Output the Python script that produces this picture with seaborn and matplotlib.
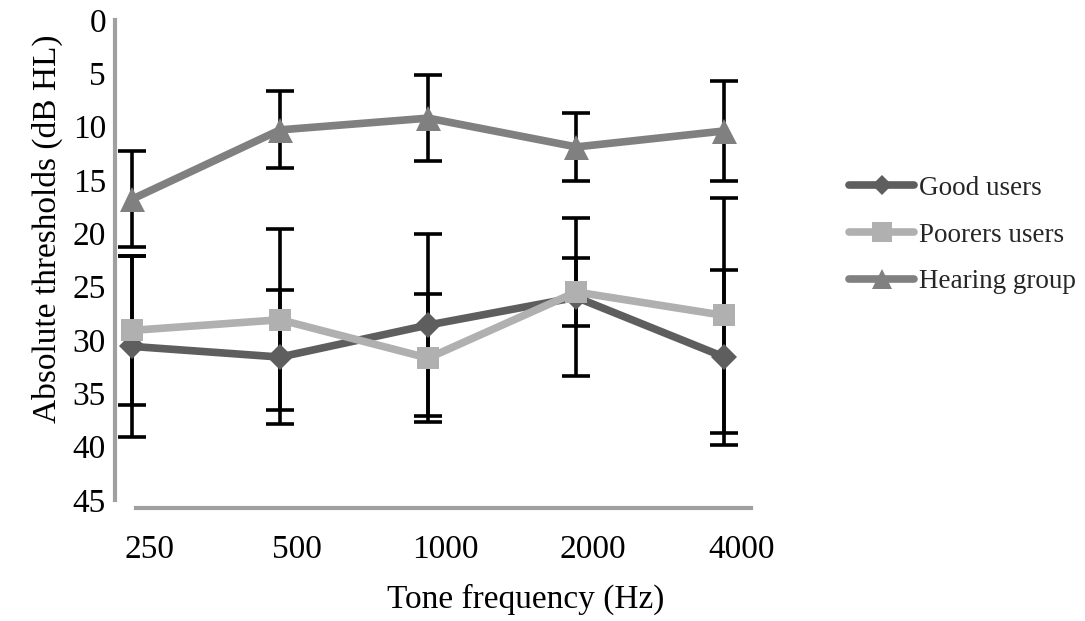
import numpy as np
import pandas as pd
import matplotlib
matplotlib.use("Agg")
import matplotlib.pyplot as plt
import seaborn as sns

# -------------------------------
# DATA
# -------------------------------
freqs = ['250', '500', '1000', '2000', '4000']
groups = ['Good users', 'Poorers users', 'Hearing group']

good_mean = [30.6, 31.6, 28.6, 26.0, 31.6]
good_sd = [8.5, 6.3, 8.5, 7.4, 8.2]
poor_mean = [29.1, 28.1, 31.7, 25.5, 27.7]
poor_sd = [7.0, 8.5, 6.0, 3.2, 11.0]
hear_mean = [16.8, 10.3, 9.2, 11.9, 10.4]
hear_sd = [4.5, 3.6, 4.0, 3.2, 4.7]

y_ticks = [0, 5, 10, 15, 20, 25, 30, 35, 40, 45]

df = pd.DataFrame({
    'freq': np.tile(np.arange(len(freqs)), len(groups)),
    'group': np.repeat(groups, len(freqs)),
    'threshold': good_mean + poor_mean + hear_mean,
    'sd': good_sd + poor_sd + hear_sd,
})

# -------------------------------
# STYLE
# -------------------------------
sns.set_theme(style='white')
plt.rcParams['font.family'] = ['Liberation Serif', 'DejaVu Serif']

colors = {'Good users': '#5e5e5e', 'Poorers users': '#b0b0b0', 'Hearing group': '#808080'}
markers = {'Good users': 'D', 'Poorers users': 's', 'Hearing group': '^'}
msizes = {'Good users': 13.5, 'Poorers users': 15.5, 'Hearing group': 18}

fig = plt.figure(figsize=(10.85, 6.21), dpi=100)
ax = fig.add_axes([115 / 1085, 121 / 621, 636 / 1085, 480 / 621])

# ---- error bars (drawn underneath the lines)
for g in groups:
    sub = df[df['group'] == g]
    ax.errorbar(sub['freq'], sub['threshold'], yerr=sub['sd'], fmt='none',
                ecolor='black', elinewidth=2.6, capsize=10, capthick=2.6, zorder=1)

# ---- lines
for i, g in enumerate(groups):
    sns.lineplot(data=df[df['group'] == g], x='freq', y='threshold',
                 color=colors[g], marker=markers[g], markersize=msizes[g],
                 markeredgewidth=0, linewidth=5.5, label=g, ax=ax,
                 zorder=3 + i, errorbar=None)

# -------------------------------
# AXES
# -------------------------------
ax.set_xlim(-0.115, 4.18)
ax.set_ylim(45, 0)
ax.set_yticks(y_ticks)
ax.set_yticklabels([str(t) for t in y_ticks])
# tick labels sit a little right of the points in the original
ax.set_xticks(np.arange(len(freqs)) + 0.115)
ax.set_xticklabels(freqs)
ax.tick_params(axis='both', length=0, labelsize=24, colors='black')
ax.tick_params(axis='y', pad=6.5)
ax.tick_params(axis='x', pad=19)

for side in ['top', 'right']:
    ax.spines[side].set_visible(False)
ax.spines['left'].set_color('#a0a0a0')
ax.spines['left'].set_linewidth(3)
ax.spines['left'].set_bounds(0, 45)
ax.spines['bottom'].set_color('#a0a0a0')
ax.spines['bottom'].set_linewidth(3)
ax.spines['bottom'].set_position(('outward', 6))
ax.spines['bottom'].set_bounds(0.027, 4.18)

ax.set_ylabel('Absolute thresholds (dB HL)', fontsize=24, color='black')
ax.yaxis.set_label_coords(-0.082, 0.565)
ax.set_xlabel('Tone frequency (Hz)', fontsize=24, color='black')
ax.xaxis.set_label_coords(0.645, -0.175)

# -------------------------------
# LEGEND
# -------------------------------
leg = ax.legend(loc='center left', bbox_to_anchor=(849 / 1085, 1 - 235 / 621),
                bbox_transform=fig.transFigure, frameon=False, fontsize=19.5,
                handlelength=2.4, handletextpad=0.2, labelspacing=0.8,
                borderpad=0, borderaxespad=0)
for h, ms in zip(leg.legend_handles, [10, 14, 14]):
    h.set_markersize(ms)

plt.savefig('out.png', dpi=100)
